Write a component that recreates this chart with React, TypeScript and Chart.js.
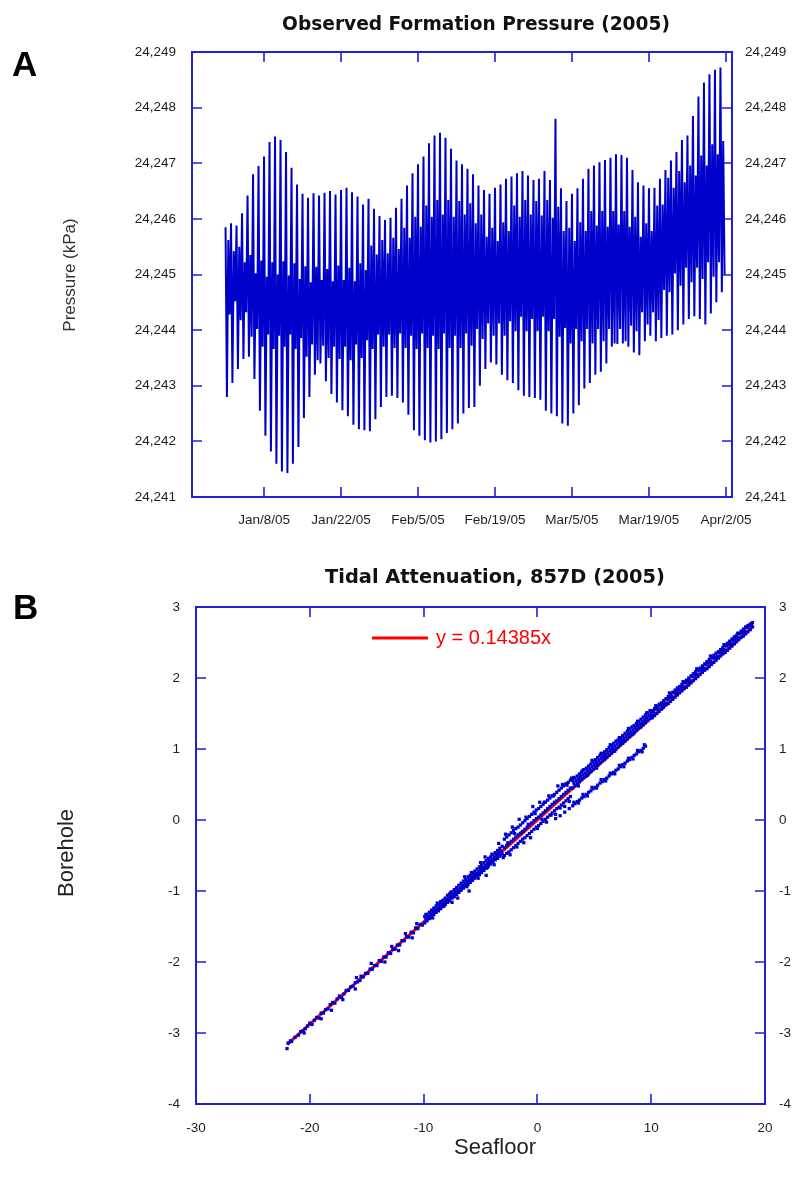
import React, { useEffect, useRef } from "react";
import { Chart, registerables } from "chart.js";

Chart.register(...registerables);

const FONT = "'Liberation Sans', Arial, Helvetica, sans-serif";
const TITLE_FONT = "'DejaVu Sans', Verdana, sans-serif";
const AXIS_BLUE = "#2020d8";
const DATA_BLUE = "#0000cc";
const LABEL_COLOR = "#1e1e1e";

// ---------------- Panel A : Observed Formation Pressure (2005) ----------------
// day index 0 = Jan 1 2005
const dateTickDays = [7, 21, 35, 49, 63, 77, 91];
const dateTickLabels = ["Jan/8/05", "Jan/22/05", "Feb/5/05", "Feb/19/05", "Mar/5/05", "Mar/19/05", "Apr/2/05"];

// daily tidal extremes (kPa): higher high, lower low, lower high, higher low
const higherHigh = [
  24245.85, 24245.92, 24245.88, 24246.1, 24246.42, 24246.8, 24246.95, 24247.12, 24247.38, 24247.48,
  24247.42, 24247.2, 24246.92, 24246.62, 24246.45, 24246.38, 24246.46, 24246.42, 24246.47, 24246.5,
  24246.44, 24246.52, 24246.56, 24246.48, 24246.4, 24246.26, 24246.36, 24246.18, 24246.05, 24245.98,
  24246.02, 24246.2, 24246.36, 24246.6, 24246.82, 24246.98, 24247.12, 24247.36, 24247.5, 24247.55,
  24247.46, 24247.26, 24247.05, 24246.98, 24246.9, 24246.8, 24246.6, 24246.52, 24246.45, 24246.56,
  24246.62, 24246.72, 24246.76, 24246.82, 24246.86, 24246.78, 24246.7, 24246.72, 24246.86, 24246.7,
  24247.8, 24246.55, 24246.32, 24246.45, 24246.55, 24246.72, 24246.9, 24246.96, 24247.02, 24247.06,
  24247.1, 24247.16, 24247.15, 24247.1, 24246.88, 24246.66, 24246.6, 24246.55, 24246.56, 24246.72,
  24246.88, 24247.05, 24247.2, 24247.42, 24247.5, 24247.85, 24248.2, 24248.45, 24248.6, 24248.68,
  24248.72,
];
const lowerLow = [
  24242.8, 24243.05, 24243.3, 24243.48, 24243.52, 24243.12, 24242.55, 24242.1, 24241.82, 24241.6,
  24241.46, 24241.43, 24241.6, 24241.9, 24242.42, 24242.8, 24243.2, 24243.4, 24243.08, 24242.85,
  24242.7, 24242.56, 24242.45, 24242.3, 24242.22, 24242.2, 24242.18, 24242.4, 24242.62, 24242.8,
  24242.82, 24242.78, 24242.7, 24242.48, 24242.2, 24242.1, 24242.02, 24241.98, 24242.0, 24242.04,
  24242.15, 24242.22, 24242.32, 24242.5, 24242.6, 24242.62, 24243.0, 24243.3, 24243.42, 24243.38,
  24243.2, 24243.1, 24243.05, 24242.92, 24242.82, 24242.8, 24242.78, 24242.75, 24242.55, 24242.5,
  24242.45, 24242.32, 24242.28, 24242.5, 24242.65, 24242.95, 24243.05, 24243.2, 24243.25, 24243.4,
  24243.7, 24243.75, 24243.76, 24243.7, 24243.6, 24243.55, 24243.8, 24243.9, 24243.8, 24243.86,
  24243.9, 24243.92, 24244.0, 24244.1, 24244.2, 24244.25, 24244.2, 24244.1, 24244.3, 24244.5,
  24244.68,
];
const lowerHigh = [
  24245.62, 24245.42, 24245.5, 24245.22, 24245.35, 24245.02, 24245.25, 24244.96, 24245.22, 24245.0,
  24245.24, 24244.98, 24245.2, 24244.92, 24245.15, 24244.86, 24245.14, 24244.9, 24245.1, 24244.88,
  24245.16, 24244.9, 24245.12, 24244.88, 24245.2, 24245.08, 24245.52, 24245.36, 24245.62, 24245.38,
  24245.66, 24245.46, 24245.84, 24245.66, 24246.04, 24245.86, 24246.24, 24246.04, 24246.34, 24246.08,
  24246.34, 24246.04, 24246.32, 24246.08, 24246.28, 24245.92, 24246.08, 24245.68, 24245.84, 24245.6,
  24245.94, 24245.78, 24246.24, 24246.04, 24246.34, 24246.08, 24246.32, 24246.06, 24246.34, 24246.02,
  24246.22, 24245.78, 24245.84, 24245.6, 24245.94, 24245.78, 24246.14, 24245.88, 24246.14, 24245.86,
  24246.14, 24245.9, 24246.14, 24245.86, 24246.04, 24245.68, 24245.92, 24245.78, 24246.24, 24246.26,
  24246.74, 24246.56, 24246.86, 24246.66, 24246.96, 24246.78, 24247.14, 24246.96, 24247.34, 24247.16,
  24247.4,
];
const higherLow = [
  24244.28, 24244.52, 24244.18, 24244.32, 24243.88, 24244.02, 24243.7, 24243.92, 24243.66, 24243.9,
  24243.7, 24243.92, 24243.66, 24243.86, 24243.52, 24243.74, 24243.46, 24243.72, 24243.5, 24243.7,
  24243.48, 24243.7, 24243.46, 24243.74, 24243.5, 24243.82, 24243.66, 24243.92, 24243.7, 24243.92,
  24243.68, 24243.94, 24243.68, 24243.9, 24243.66, 24243.94, 24243.68, 24243.9, 24243.66, 24243.94,
  24243.68, 24243.9, 24243.68, 24243.94, 24243.72, 24244.02, 24243.84, 24244.12, 24243.9, 24244.12,
  24243.9, 24244.16, 24243.98, 24244.24, 24243.98, 24244.2, 24243.98, 24244.24, 24243.98, 24244.2,
  24243.88, 24244.04, 24243.76, 24244.02, 24243.8, 24244.02, 24243.76, 24244.02, 24243.8, 24244.02,
  24243.76, 24244.02, 24243.8, 24244.08, 24243.98, 24244.32, 24244.1, 24244.32, 24244.18, 24244.72,
  24244.68, 24245.02, 24244.8, 24245.12, 24244.86, 24245.12, 24244.92, 24245.22, 24244.96, 24245.22,
  24245.0,
];

// ---------------- Panel B : Tidal Attenuation, 857D (2005) ----------------
// [seafloor, borehole]
const lowerTail: [number, number][] = [
  [-22.0, -3.22], [-21.9, -3.14], [-21.7, -3.11], [-21.6, -3.12], [-21.3, -3.06], [-21.0, -3.03], [-20.8, -2.98],
  [-20.6, -2.97], [-20.5, -3.0], [-20.4, -2.94], [-20.2, -2.9], [-20.0, -2.86], [-19.8, -2.88], [-19.6, -2.82],
  [-19.4, -2.78], [-19.2, -2.79], [-19.0, -2.72], [-19.0, -2.8], [-18.8, -2.72], [-18.6, -2.67], [-18.4, -2.66],
  [-18.2, -2.6], [-18.1, -2.68], [-18.0, -2.57], [-17.8, -2.58], [-17.6, -2.52], [-17.4, -2.48], [-17.2, -2.5],
  [-17.1, -2.53], [-17.0, -2.45], [-16.8, -2.4], [-16.6, -2.4], [-16.4, -2.35], [-16.2, -2.34], [-16.0, -2.29],
  [-16.0, -2.38], [-15.9, -2.22], [-15.8, -2.28], [-15.6, -2.26], [-15.5, -2.2], [-15.3, -2.21], [-15.1, -2.16],
  [-14.9, -2.16], [-14.7, -2.1], [-14.6, -2.02], [-14.5, -2.1], [-14.3, -2.05], [-14.1, -2.05], [-13.9, -1.98],
  [-13.7, -1.99], [-13.5, -1.93], [-13.4, -2.0], [-13.3, -1.93], [-13.1, -1.87], [-12.9, -1.88], [-12.8, -1.78],
  [-12.7, -1.82], [-12.5, -1.82], [-12.3, -1.76], [-12.2, -1.84], [-12.1, -1.76], [-11.9, -1.7], [-11.7, -1.7],
  [-11.6, -1.6], [-11.5, -1.64], [-11.3, -1.65], [-11.1, -1.58], [-11.0, -1.66], [-10.9, -1.59], [-10.7, -1.52],
  [-10.6, -1.46], [-10.5, -1.53], [-10.3, -1.47], [-10.1, -1.48],
];
const midBand: [number, number][] = [
  [-9.9, -1.36], [-9.9, -1.45], [-9.7, -1.33], [-9.7, -1.42], [-9.6, -1.38], [-9.5, -1.3], [-9.5, -1.39],
  [-9.3, -1.27], [-9.3, -1.37], [-9.1, -1.24], [-9.1, -1.33], [-9.0, -1.28], [-8.9, -1.21], [-8.9, -1.3],
  [-8.7, -1.18], [-8.7, -1.28], [-8.5, -1.15], [-8.5, -1.25], [-8.4, -1.19], [-8.3, -1.13], [-8.3, -1.22],
  [-8.1, -1.1], [-8.1, -1.19], [-7.9, -1.06], [-7.9, -1.16], [-7.8, -1.1], [-7.7, -1.04], [-7.7, -1.14],
  [-7.5, -1.01], [-7.5, -1.1], [-7.5, -1.16], [-7.3, -0.98], [-7.3, -1.08], [-7.2, -1.02], [-7.1, -0.95],
  [-7.1, -1.05], [-6.9, -0.92], [-6.9, -1.02], [-6.7, -0.89], [-6.7, -0.99], [-6.6, -0.93], [-6.5, -0.86],
  [-6.5, -0.96], [-6.3, -0.84], [-6.3, -0.93], [-6.1, -0.8], [-6.1, -0.91], [-6.0, -0.85], [-6.0, -1.0],
  [-5.9, -0.78], [-5.9, -0.88], [-5.7, -0.75], [-5.7, -0.85], [-5.5, -0.72], [-5.5, -0.82], [-5.4, -0.76],
  [-5.3, -0.69], [-5.3, -0.79], [-5.1, -0.66], [-5.1, -0.77], [-5.0, -0.6], [-4.9, -0.63], [-4.9, -0.74],
  [-4.8, -0.68], [-4.7, -0.6], [-4.7, -0.71], [-4.5, -0.57], [-4.5, -0.68], [-4.5, -0.78], [-4.3, -0.54],
  [-4.3, -0.65], [-4.2, -0.59], [-4.1, -0.52], [-4.1, -0.62], [-3.9, -0.49], [-3.9, -0.59], [-3.7, -0.46],
  [-3.7, -0.56], [-3.6, -0.5], [-3.5, -0.43], [-3.5, -0.54], [-3.3, -0.4], [-3.3, -0.51], [-3.1, -0.37],
  [-3.1, -0.48],
  [-2.9, -0.27], [-2.9, -0.39], [-2.9, -0.5], [-2.7, -0.24], [-2.7, -0.36], [-2.7, -0.47], [-2.5, -0.21],
  [-2.5, -0.33], [-2.5, -0.45], [-2.3, -0.18], [-2.3, -0.3], [-2.3, -0.42], [-2.1, -0.15], [-2.1, -0.27],
  [-2.1, -0.39], [-1.9, -0.12], [-1.9, -0.24], [-1.9, -0.36], [-1.7, -0.1], [-1.7, -0.21], [-1.7, -0.33],
  [-1.5, -0.07], [-1.5, -0.19], [-1.5, -0.3], [-1.3, -0.04], [-1.3, -0.16], [-1.3, -0.27], [-1.1, -0.01],
  [-1.1, -0.13], [-1.1, -0.25], [-0.9, 0.02], [-0.9, -0.1], [-0.9, -0.22], [-0.7, 0.05], [-0.7, -0.07],
  [-0.7, -0.19], [-0.5, 0.08], [-0.5, -0.04], [-0.5, -0.16], [-0.3, 0.11], [-0.3, -0.01], [-0.3, -0.13],
  [-0.1, 0.14], [-0.1, 0.02], [-0.1, -0.1], [0.1, 0.16], [0.1, 0.04], [0.1, -0.08], [0.3, 0.19], [0.3, 0.07],
  [0.3, -0.05], [0.5, 0.22], [0.5, 0.1], [0.5, -0.02], [0.7, 0.25], [0.7, 0.13], [0.7, 0.01], [0.9, 0.28],
  [0.9, 0.16], [0.9, 0.04], [1.1, 0.31], [1.1, 0.19], [1.1, 0.07], [1.3, 0.34], [1.3, 0.22], [1.3, 0.1],
  [1.5, 0.36], [1.5, 0.25], [1.5, 0.13], [1.7, 0.39], [1.7, 0.27], [1.7, 0.16], [1.9, 0.42], [1.9, 0.3],
  [1.9, 0.18], [2.1, 0.45], [2.1, 0.33], [2.1, 0.21], [2.3, 0.48], [2.3, 0.36], [2.3, 0.24], [2.5, 0.51],
  [2.5, 0.39], [2.5, 0.27], [2.7, 0.53], [2.7, 0.42], [2.7, 0.3], [2.9, 0.56], [2.9, 0.45], [2.9, 0.33],
];
const midCore: [number, number][] = [
  [-9.8, -1.39], [-9.6, -1.36], [-9.4, -1.33], [-9.2, -1.3], [-9.0, -1.27], [-8.8, -1.25], [-8.6, -1.22],
  [-8.4, -1.19], [-8.2, -1.16], [-8.0, -1.13], [-7.8, -1.1], [-7.6, -1.07], [-7.4, -1.04], [-7.2, -1.02],
  [-7.0, -0.99], [-6.8, -0.96], [-6.6, -0.93], [-6.4, -0.9], [-6.2, -0.87], [-6.0, -0.84], [-5.8, -0.81],
  [-5.6, -0.79], [-5.4, -0.76], [-5.2, -0.73], [-5.0, -0.7], [-4.8, -0.67], [-4.6, -0.64], [-4.4, -0.61],
  [-4.2, -0.58], [-4.0, -0.56], [-3.8, -0.53], [-3.6, -0.5], [-3.4, -0.47], [-3.2, -0.44],
];
const midScatter: [number, number][] = [
  [-9.8, -1.33], [-9.2, -1.38], [-8.8, -1.17], [-8.2, -1.21], [-7.6, -1.02], [-7.0, -1.1], [-6.4, -0.8],
  [-6.2, -0.94], [-5.8, -0.74], [-5.2, -0.82], [-4.6, -0.52], [-4.4, -0.67], [-4.0, -0.48], [-3.8, -0.63],
  [-3.4, -0.33], [-3.2, -0.44], [-3.0, -0.53], [-2.8, -0.2], [-2.6, -0.32], [-2.4, -0.49], [-2.2, -0.1],
  [-2.0, -0.19], [-1.8, -0.38], [-1.6, 0.01], [-1.4, -0.18], [-1.2, -0.32], [-1.0, 0.04], [-0.8, -0.06],
  [-0.6, -0.25], [-0.4, 0.19], [-0.2, 0.09], [0.0, -0.12], [0.2, 0.25], [0.4, 0.01], [0.6, 0.25], [0.8, -0.03],
  [1.0, 0.34], [1.2, 0.07], [1.4, 0.34], [1.6, 0.08], [1.8, 0.48], [2.0, 0.17], [2.2, 0.5], [2.4, 0.19],
  [2.6, 0.49], [2.8, 0.26], [3.0, 0.59],
];
const upperBand: [number, number][] = [
  [3.1, 0.45], [3.1, 0.56], [3.3, 0.48], [3.3, 0.59], [3.5, 0.51], [3.5, 0.62], [3.7, 0.54], [3.7, 0.65],
  [3.9, 0.57], [3.9, 0.68], [4.1, 0.6], [4.1, 0.71], [4.3, 0.62], [4.3, 0.73], [4.5, 0.65], [4.5, 0.76],
  [4.7, 0.68], [4.7, 0.79], [4.9, 0.71], [4.9, 0.82], [5.1, 0.74], [5.1, 0.85], [5.3, 0.77], [5.3, 0.88],
  [5.5, 0.8], [5.5, 0.91], [5.7, 0.83], [5.7, 0.93], [5.9, 0.85], [5.9, 0.96], [6.1, 0.88], [6.1, 0.99],
  [6.3, 0.91], [6.3, 1.02], [6.5, 0.94], [6.5, 1.05], [6.7, 0.97], [6.7, 1.08], [6.9, 1.0], [6.9, 1.11],
  [7.1, 1.03], [7.1, 1.13], [7.3, 1.06], [7.3, 1.16], [7.5, 1.08], [7.5, 1.19], [7.7, 1.11], [7.7, 1.22],
  [7.9, 1.14], [7.9, 1.25], [8.1, 1.17], [8.1, 1.28], [8.3, 1.2], [8.3, 1.31], [8.5, 1.23], [8.5, 1.33],
  [8.7, 1.26], [8.7, 1.36], [8.9, 1.29], [8.9, 1.39], [9.1, 1.31], [9.1, 1.42], [9.3, 1.34], [9.3, 1.45],
  [9.5, 1.37], [9.5, 1.48], [9.7, 1.4], [9.7, 1.51], [9.9, 1.43], [9.9, 1.54],
  [10.1, 1.44], [10.1, 1.54], [10.3, 1.47], [10.3, 1.57], [10.5, 1.5], [10.5, 1.6], [10.7, 1.53], [10.7, 1.63],
  [10.9, 1.56], [10.9, 1.65], [11.1, 1.59], [11.1, 1.68], [11.3, 1.62], [11.3, 1.71], [11.5, 1.64], [11.5, 1.74],
  [11.7, 1.67], [11.7, 1.77], [11.9, 1.7], [11.9, 1.8], [12.1, 1.73], [12.1, 1.83], [12.3, 1.76], [12.3, 1.86],
  [12.5, 1.79], [12.5, 1.88], [12.7, 1.82], [12.7, 1.91], [12.9, 1.85], [12.9, 1.94], [13.1, 1.87], [13.1, 1.97],
  [13.3, 1.9], [13.3, 2.0], [13.5, 1.93], [13.5, 2.03], [13.7, 1.96], [13.7, 2.06], [13.9, 1.99], [13.9, 2.09],
  [14.1, 2.02], [14.1, 2.12], [14.3, 2.05], [14.3, 2.14], [14.5, 2.08], [14.5, 2.17], [14.7, 2.11], [14.7, 2.2],
  [14.9, 2.13], [14.9, 2.23], [15.1, 2.16], [15.1, 2.26], [15.3, 2.19], [15.3, 2.29], [15.5, 2.22], [15.5, 2.32],
  [15.7, 2.25], [15.7, 2.35], [15.9, 2.28], [15.9, 2.37], [16.1, 2.31], [16.1, 2.4], [16.3, 2.34], [16.3, 2.43],
  [16.5, 2.36], [16.5, 2.46], [16.7, 2.39], [16.7, 2.49], [16.9, 2.42], [16.9, 2.52], [17.1, 2.45], [17.1, 2.55],
  [17.3, 2.48], [17.3, 2.58], [17.5, 2.51], [17.5, 2.6], [17.7, 2.54], [17.7, 2.63], [17.9, 2.57], [17.9, 2.66],
  [18.1, 2.59], [18.1, 2.69], [18.3, 2.62], [18.3, 2.72], [18.5, 2.65], [18.5, 2.74], [18.7, 2.68], [18.7, 2.76],
  [18.9, 2.72], [18.9, 2.78],
];
const upperCore: [number, number][] = [
  [3.2, 0.52], [3.4, 0.55], [3.6, 0.58], [3.8, 0.61], [4.0, 0.64], [4.2, 0.66], [4.4, 0.69], [4.6, 0.72],
  [4.8, 0.75], [5.0, 0.78], [5.2, 0.81], [5.4, 0.84], [5.6, 0.87], [5.8, 0.89], [6.0, 0.92], [6.2, 0.95],
  [6.4, 0.98], [6.6, 1.01], [6.8, 1.04], [7.0, 1.07], [7.2, 1.1], [7.4, 1.12], [7.6, 1.15], [7.8, 1.18],
  [8.0, 1.21], [8.2, 1.24], [8.4, 1.27], [8.6, 1.3], [8.8, 1.33], [9.0, 1.35], [9.2, 1.38], [9.4, 1.41],
  [9.6, 1.44], [9.8, 1.47], [10.0, 1.5],
  [10.2, 1.52], [10.4, 1.56], [10.6, 1.57], [10.8, 1.61], [11.0, 1.63], [11.2, 1.65], [11.4, 1.7], [11.6, 1.72],
  [11.8, 1.74], [12.0, 1.79], [12.2, 1.8], [12.4, 1.84], [12.6, 1.86], [12.8, 1.88], [13.0, 1.93], [13.2, 1.95],
  [13.4, 1.97], [13.6, 2.02], [13.8, 2.04], [14.0, 2.05], [14.2, 2.1], [14.4, 2.12], [14.6, 2.14], [14.8, 2.19],
  [15.0, 2.21], [15.2, 2.23], [15.4, 2.28], [15.6, 2.29], [15.8, 2.31], [16.0, 2.36], [16.2, 2.38], [16.4, 2.4],
  [16.6, 2.45], [16.8, 2.47], [17.0, 2.49], [17.2, 2.53], [17.4, 2.55], [17.6, 2.57], [17.8, 2.62], [18.0, 2.64],
  [18.2, 2.66], [18.4, 2.71], [18.6, 2.73], [18.8, 2.75],
];
const upperScatter: [number, number][] = [
  [3.2, 0.6], [3.6, 0.48], [4.0, 0.7], [4.4, 0.63], [4.8, 0.84], [5.2, 0.73], [5.6, 0.94], [6.0, 0.88],
  [6.4, 1.06], [6.8, 0.97], [7.2, 1.16], [7.6, 1.12], [8.0, 1.29], [8.4, 1.21], [8.8, 1.39], [9.2, 1.35],
  [9.6, 1.51], [10.0, 1.46], [10.4, 1.61], [11.0, 1.58], [11.6, 1.79], [12.2, 1.78], [12.8, 1.95], [13.4, 1.94],
  [14.0, 2.13], [14.6, 2.12], [15.2, 2.31], [15.8, 2.29], [16.4, 2.47], [17.0, 2.47], [17.6, 2.63], [18.2, 2.66],
  [18.8, 2.76],
];
const lowerBranch: [number, number][] = [
  [1.6, 0.02], [2.0, 0.06], [2.4, 0.11], [2.8, 0.16],
  [3.1, 0.2], [3.2, 0.25], [3.3, 0.23], [3.5, 0.26], [3.6, 0.24], [3.7, 0.28], [3.9, 0.31], [4.0, 0.36],
  [4.1, 0.33], [4.3, 0.36], [4.4, 0.34], [4.5, 0.39], [4.7, 0.41], [4.8, 0.46], [4.9, 0.44], [5.1, 0.46],
  [5.2, 0.45], [5.3, 0.49], [5.5, 0.52], [5.6, 0.57], [5.7, 0.54], [5.9, 0.57], [6.0, 0.55], [6.1, 0.59],
  [6.3, 0.62], [6.4, 0.66], [6.5, 0.65], [6.7, 0.67], [6.8, 0.65], [6.9, 0.7], [7.1, 0.72], [7.2, 0.77],
  [7.3, 0.75], [7.5, 0.78], [7.6, 0.75], [7.7, 0.8], [7.9, 0.83], [8.0, 0.87], [8.1, 0.85], [8.3, 0.88],
  [8.4, 0.86], [8.5, 0.91], [8.7, 0.93], [8.8, 0.98], [8.9, 0.96], [9.1, 0.98], [9.2, 0.96], [9.3, 1.01],
  [9.4, 1.06], [9.5, 1.04],
];
// regression line y = 0.14385x, end points
const fitSeafloor = [-22, 19];
const fitBorehole = [-3.165, 2.733];
const fitLabel = "y = 0.14385x";

type TextItem = {
  text: string;
  x: number;
  y: number;
  font: string;
  color: string;
  align?: CanvasTextAlign;
  baseline?: CanvasTextBaseline;
  rotate?: number;
};
type LineItem = { x1: number; x2: number; y: number; color: string; width: number };

function makeOverlay(id: string, texts: TextItem[], lines: LineItem[] = []) {
  return {
    id,
    afterDraw(chart: any) {
      const ctx: CanvasRenderingContext2D = chart.ctx;
      for (const l of lines) {
        ctx.save();
        ctx.strokeStyle = l.color;
        ctx.lineWidth = l.width;
        ctx.beginPath();
        ctx.moveTo(l.x1, l.y);
        ctx.lineTo(l.x2, l.y);
        ctx.stroke();
        ctx.restore();
      }
      for (const t of texts) {
        ctx.save();
        ctx.font = t.font;
        ctx.fillStyle = t.color;
        ctx.textAlign = t.align || "center";
        ctx.textBaseline = t.baseline || "middle";
        ctx.translate(t.x, t.y);
        if (t.rotate) ctx.rotate(t.rotate);
        ctx.fillText(t.text, 0, 0);
        ctx.restore();
      }
    },
  };
}

function makeFrame(id: string, yId: string) {
  return {
    id,
    beforeDatasetsDraw(chart: any) {
      const ctx: CanvasRenderingContext2D = chart.ctx;
      const a = chart.chartArea;
      const xs = chart.scales.x;
      const ys = chart.scales[yId];
      const len = 10;
      ctx.save();
      ctx.strokeStyle = AXIS_BLUE;
      ctx.lineWidth = 1.6;
      ctx.beginPath();
      xs.ticks.forEach((t: any) => {
        const p = Math.round(xs.getPixelForValue(t.value));
        if (p <= a.left + 2 || p >= a.right - 2) return;
        ctx.moveTo(p, a.bottom);
        ctx.lineTo(p, a.bottom - len);
        ctx.moveTo(p, a.top);
        ctx.lineTo(p, a.top + len);
      });
      ys.ticks.forEach((t: any) => {
        const p = Math.round(ys.getPixelForValue(t.value));
        if (p <= a.top + 2 || p >= a.bottom - 2) return;
        ctx.moveTo(a.left, p);
        ctx.lineTo(a.left + len, p);
        ctx.moveTo(a.right, p);
        ctx.lineTo(a.right - len, p);
      });
      ctx.stroke();
      ctx.lineWidth = 2;
      ctx.strokeRect(a.left, a.top, a.right - a.left, a.bottom - a.top);
      ctx.restore();
    },
  };
}

const tickFont = { family: FONT, size: 13.5 };
const hiddenGrid = { display: false, drawTicks: false };
const noBorder = { display: false };

function pressureSeries() {
  const pts: { x: number; y: number }[] = [];
  for (let d = 0; d < higherHigh.length; d++) {
    pts.push({ x: d, y: higherHigh[d] });
    pts.push({ x: d + 0.25, y: lowerLow[d] });
    pts.push({ x: d + 0.5, y: lowerHigh[d] });
    pts.push({ x: d + 0.75, y: higherLow[d] });
  }
  return pts;
}

const fmtKPa = (v: any) => Number(v).toLocaleString("en-US");

export default function App() {
  const refA = useRef<HTMLCanvasElement>(null);
  const refB = useRef<HTMLCanvasElement>(null);

  useEffect(() => {
    const overlayA = makeOverlay("overlayA", [
      { text: "A", x: 12, y: 76, font: `bold 35px ${FONT}`, color: "#000", align: "left", baseline: "alphabetic" },
      {
        text: "Observed Formation Pressure (2005)",
        x: 476,
        y: 30,
        font: `bold 18.6px ${TITLE_FONT}`,
        color: "#111",
        baseline: "alphabetic",
      },
      { text: "Pressure (kPa)", x: 70, y: 275, font: `17px ${FONT}`, color: "#333", rotate: -Math.PI / 2 },
    ]);
    const chartA = new Chart(refA.current as HTMLCanvasElement, {
      type: "line",
      data: {
        datasets: [
          {
            data: pressureSeries(),
            borderColor: DATA_BLUE,
            borderWidth: 2,
            pointRadius: 0,
            fill: false,
            tension: 0,
          },
        ],
      },
      options: {
        responsive: false,
        animation: false,
        devicePixelRatio: 1,
        layout: { padding: { left: 132, right: 2, top: 52, bottom: 8 } },
        plugins: { legend: { display: false }, tooltip: { enabled: false }, title: { display: false } },
        scales: {
          x: {
            type: "linear",
            min: -6.1,
            max: 92.1,
            grid: hiddenGrid,
            border: noBorder,
            afterBuildTicks: (s: any) => {
              s.ticks = dateTickDays.map((v) => ({ value: v }));
            },
            afterFit: (s: any) => {
              s.height = 40;
            },
            ticks: {
              autoSkip: false,
              maxRotation: 0,
              padding: 15,
              color: LABEL_COLOR,
              font: tickFont,
              callback: (_v: any, i: number) => dateTickLabels[i],
            },
          },
          y: {
            position: "left",
            min: 24241,
            max: 24249,
            grid: hiddenGrid,
            border: noBorder,
            afterFit: (s: any) => {
              s.width = 60;
            },
            ticks: { stepSize: 1, padding: 16, color: LABEL_COLOR, font: tickFont, callback: fmtKPa },
          },
          y2: {
            position: "right",
            min: 24241,
            max: 24249,
            grid: hiddenGrid,
            border: noBorder,
            afterFit: (s: any) => {
              s.width = 60;
            },
            ticks: { stepSize: 1, padding: 13, color: LABEL_COLOR, font: tickFont, callback: fmtKPa },
          },
        },
      } as any,
      plugins: [makeFrame("frameA", "y"), overlayA],
    });

    const toPts = (arr: [number, number][]) => arr.map(([x, y]) => ({ x, y }));
    const scatterPts = [
      ...toPts(lowerTail),
      ...toPts(midBand),
      ...toPts(midCore),
      ...toPts(midScatter),
      ...toPts(lowerBranch),
      ...toPts(upperBand),
      ...toPts(upperCore),
      ...toPts(upperScatter),
    ];
    const fitPts = fitSeafloor.map((x, i) => ({ x, y: fitBorehole[i] }));

    const overlayB = makeOverlay(
      "overlayB",
      [
        { text: "B", x: 13, y: 74, font: `bold 35px ${FONT}`, color: "#000", align: "left", baseline: "alphabetic" },
        {
          text: "Tidal Attenuation, 857D (2005)",
          x: 495,
          y: 38,
          font: `bold 19.4px ${TITLE_FONT}`,
          color: "#111",
          baseline: "alphabetic",
        },
        { text: fitLabel, x: 436, y: 93, font: `20px ${FONT}`, color: "#ff0000", align: "left" },
        { text: "Borehole", x: 67, y: 308, font: `22px ${FONT}`, color: "#222", rotate: -Math.PI / 2 },
        { text: "Seafloor", x: 495, y: 603, font: `22px ${FONT}`, color: "#222" },
      ],
      [{ x1: 372, x2: 428, y: 93, color: "#ff0000", width: 3 }]
    );

    const chartB = new Chart(refB.current as HTMLCanvasElement, {
      type: "scatter",
      data: {
        datasets: [
          {
            data: scatterPts,
            pointStyle: "rect",
            pointRadius: 2.3,
            pointBorderWidth: 0,
            backgroundColor: DATA_BLUE,
            borderColor: DATA_BLUE,
          },
          {
            data: fitPts,
            showLine: true,
            borderColor: "#ff0000",
            borderWidth: 3,
            pointRadius: 0,
            fill: false,
          },
        ],
      },
      options: {
        responsive: false,
        animation: false,
        devicePixelRatio: 1,
        layout: { padding: { left: 136, right: 0, top: 62, bottom: 43 } },
        plugins: { legend: { display: false }, tooltip: { enabled: false }, title: { display: false } },
        scales: {
          x: {
            type: "linear",
            min: -30,
            max: 20,
            grid: hiddenGrid,
            border: noBorder,
            afterFit: (s: any) => {
              s.height = 40;
            },
            ticks: {
              stepSize: 10,
              padding: 16,
              autoSkip: false,
              maxRotation: 0,
              color: LABEL_COLOR,
              font: tickFont,
              callback: (v: any) => String(v),
            },
          },
          y: {
            position: "left",
            min: -4,
            max: 3,
            grid: hiddenGrid,
            border: noBorder,
            afterFit: (s: any) => {
              s.width = 60;
            },
            ticks: { stepSize: 1, padding: 16, color: LABEL_COLOR, font: tickFont, callback: (v: any) => String(v) },
          },
          y2: {
            position: "right",
            min: -4,
            max: 3,
            grid: hiddenGrid,
            border: noBorder,
            afterFit: (s: any) => {
              s.width = 29;
            },
            ticks: { stepSize: 1, padding: 14, color: LABEL_COLOR, font: tickFont, callback: (v: any) => String(v) },
          },
        },
      } as any,
      plugins: [makeFrame("frameB", "y"), overlayB],
    });

    return () => {
      chartA.destroy();
      chartB.destroy();
    };
  }, []);

  return (
    <div style={{ position: "absolute", left: 0, top: 0, width: 794, height: 1187, background: "#fff" }}>
      <canvas ref={refA} width={794} height={545} style={{ position: "absolute", left: 0, top: 0 }} />
      <canvas ref={refB} width={794} height={642} style={{ position: "absolute", left: 0, top: 545 }} />
    </div>
  );
}
